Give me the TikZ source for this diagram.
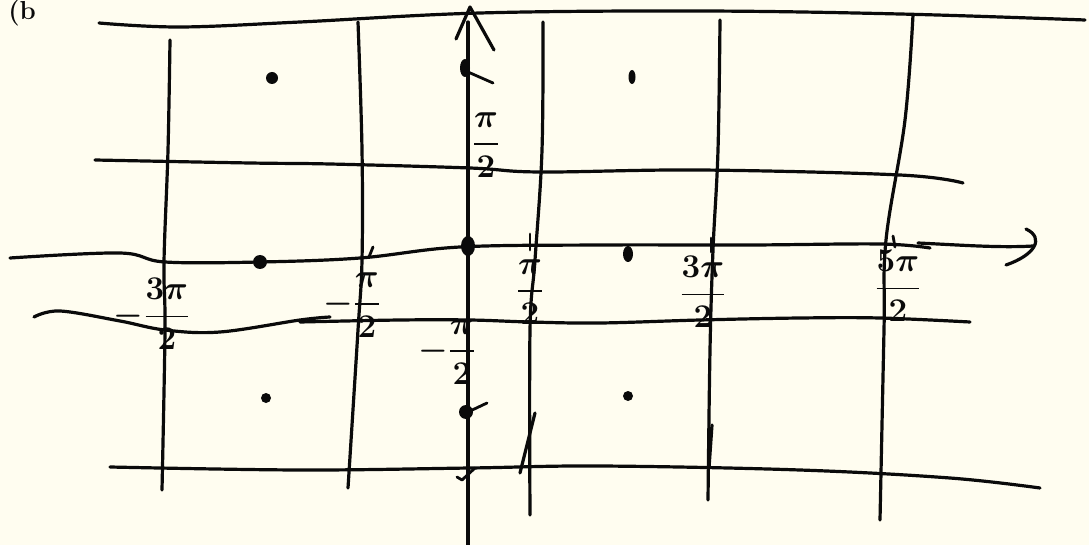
\documentclass[tikz,border=0pt]{standalone}
\usepackage{amsmath}
\definecolor{paper}{RGB}{255,253,240}
\definecolor{ink}{RGB}{10,10,10}
\begin{document}
\begin{tikzpicture}[x=1pt,y=-1pt,
  pen/.style={draw=ink,line width=3.2pt,line cap=round,line join=round},
  thin pen/.style={draw=ink,line width=2.8pt,line cap=round,line join=round},
  blob/.style={fill=ink},
  lbl/.style={text=ink,font=\fontsize{20}{24}\selectfont\boldmath,inner sep=0pt,scale=1.6}]
\fill[paper] (0,0) rectangle (1089,545);
\useasboundingbox (0,0) rectangle (1089,545);
% stray handwriting at top-left
\node[text=ink,font=\fontsize{20}{24}\selectfont\bfseries,anchor=north west,inner sep=0pt,scale=1.3] (tl) at (8,0) {(b};
% horizontal lines
\draw[pen] plot[smooth,tension=0.6] coordinates {(99,23) (180,27) (300,22) (480,13) (700,11) (900,14) (1085,20)};
\draw[pen] plot[smooth,tension=0.6] coordinates {(95,160) (250,163) (330,164) (470,168) (540,172) (700,170) (900,175) (963,183)};
\draw[pen] plot[smooth,tension=0.6] coordinates {(10,258) (120,253) (165,262) (260,262) (360,258) (460,247) (600,245) (750,245) (880,244) (930,248)};
\draw[pen] plot[smooth,tension=0.6] coordinates {(34,317) (60,311) (120,321) (165,330) (220,332) (300,320) (330,317)};
\draw[pen] plot[smooth,tension=0.6] coordinates {(300,322) (400,320) (470,320) (530,322) (600,323) (700,320) (800,318) (880,318) (970,322)};
\draw[pen] plot[smooth,tension=0.6] coordinates {(110,467) (300,470) (470,468) (600,466) (800,470) (950,478) (1040,488)};
% x-axis arrow
\draw[pen] (918,243) .. controls (960,245) and (1000,248) .. (1033,246);
\draw[pen] (1026,229) .. controls (1045,238) and (1035,255) .. (1006,265);
% vertical lines
\draw[pen] plot[smooth,tension=0.6] coordinates {(170,40) (168,150) (164,262) (165,330) (162,490)};
\draw[pen] plot[smooth,tension=0.6] coordinates {(358,22) (362,150) (362,260) (358,330) (348,488)};
\draw[pen] plot[smooth,tension=0.6] coordinates {(543,22) (542,150) (535,260) (530,330) (530,515)};
\draw[pen] plot[smooth,tension=0.6] coordinates {(720,20) (718,150) (713,250) (710,350) (708,500)};
\draw[pen] plot[smooth,tension=0.6] coordinates {(913,15) (905,120) (886,240) (884,330) (880,520)};
% y-axis with arrow
\draw[pen] (468,22) -- (468,545);
\draw[pen] (456,39) -- (470,7) -- (494,50);
% small marks
\draw[pen] (520,473) -- (535,413);
\draw[pen] (712,425) -- (709,468);
\draw[thin pen] (530,234) -- (530,250);
\draw[thin pen] (711,238) -- (711,252);
\draw[thin pen] (893,236) -- (895,247);
\draw[thin pen] (373,247) -- (369,257);
\draw[thin pen] (468,72) -- (493,83);
\draw[thin pen] (468,412) -- (487,403);
\draw[thin pen] (457,477) -- (462,480) -- (475,468);
% dots
\fill[blob] (272,78) circle (6);
\fill[blob] (632,77) ellipse (3.5 and 7);
\fill[blob] (260,262) circle (7);
\fill[blob] (628,254) ellipse (5 and 8);
\fill[blob] (266,398) circle (5);
\fill[blob] (628,396) circle (5);
\fill[blob] (468,246) ellipse (7 and 10);
\fill[blob] (465,68) ellipse (5 and 9);
\fill[blob] (466,412) circle (7);
% labels
\node[lbl] (lm3) at (152,314) {$\displaystyle -\frac{3\pi}{2}$};
\node[lbl] (lm1) at (352,305) {$\displaystyle -\frac{\pi}{2}$};
\node[lbl] (lp1) at (530,292) {$\displaystyle \frac{\pi}{2}$};
\node[lbl] (lp3) at (703,292) {$\displaystyle \frac{3\pi}{2}$};
\node[lbl] (lp5) at (898,286) {$\displaystyle \frac{5\pi}{2}$};
\node[lbl] (ly1) at (486,145) {$\displaystyle \frac{\pi}{2}$};
\node[lbl] (ly2) at (447,352) {$\displaystyle -\frac{\pi}{2}$};
\end{tikzpicture}
\end{document}
